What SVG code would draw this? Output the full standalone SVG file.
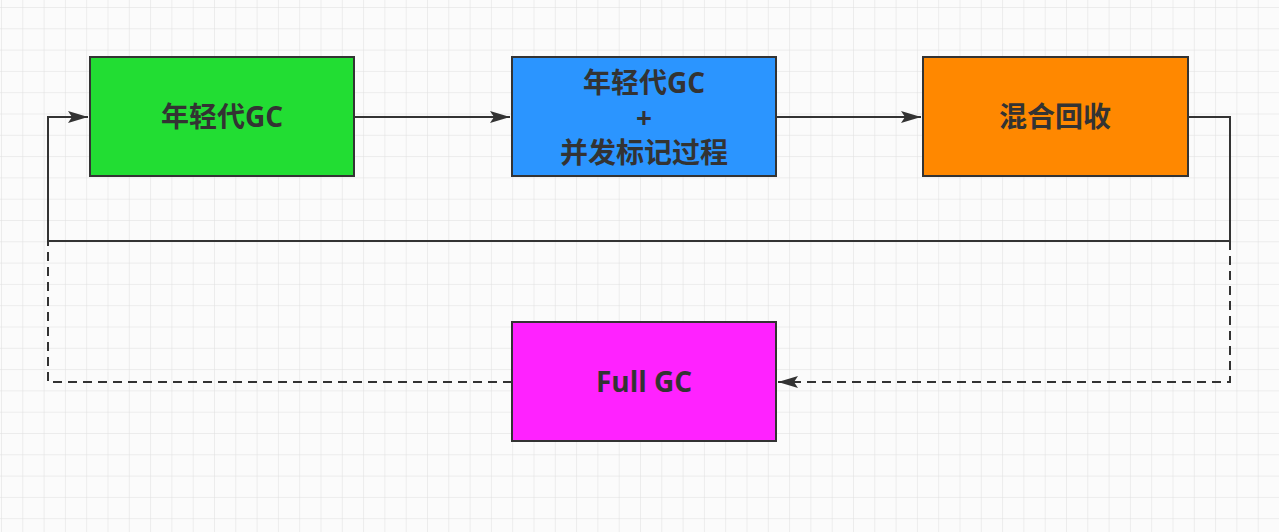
<svg xmlns="http://www.w3.org/2000/svg" width="1279" height="532" viewBox="0 0 1279 532">
<style>
.node{stroke:#333;stroke-width:2}
.lbl{font-family:"Open Sans","Noto Sans CJK SC",sans-serif;font-weight:bold;font-size:28px;fill:#333;text-anchor:middle;dominant-baseline:central}
.edge{fill:none;stroke:#333;stroke-width:2}
.dash{stroke-dasharray:9 6}
</style>
<defs>
<pattern id="grid" x="1" y="7" width="21.3" height="21.3" patternUnits="userSpaceOnUse">
<path d="M0 0H21.3M0 0V21.3" fill="none" stroke="#dedede" stroke-width="1"/>
</pattern>
<marker id="arrL" viewBox="0 0 20 12" refX="20" refY="6" markerWidth="20" markerHeight="12" markerUnits="userSpaceOnUse" orient="auto">
<path d="M0 0L20 6L0 12L4 6Z" fill="#333"/>
</marker>
</defs>
<rect width="1279" height="532" fill="#fbfbfb"/>
<rect width="1279" height="532" fill="url(#grid)"/>
<g id="connectors">
<path class="edge" d="M354 117H510" marker-end="url(#arrL)"/>
<path class="edge" d="M776 117H921" marker-end="url(#arrL)"/>
<path class="edge" d="M1188 117H1230V241H48V117H88" marker-end="url(#arrL)"/>
<path class="edge dash" d="M1230 241V382H778" marker-end="url(#arrL)"/>
<path class="edge dash" d="M512 382H48V241"/>
</g>
<g id="young-gc">
<rect class="node" x="90" y="57" width="264" height="119" fill="#22dd33"/>
<text class="lbl" x="222" y="116">年轻代GC</text>
</g>
<g id="young-gc-concurrent-mark">
<rect class="node" x="512" y="57" width="264" height="119" fill="#2b95ff"/>
<text class="lbl" x="644" y="82">年轻代GC</text>
<text class="lbl" x="644" y="117">+</text>
<text class="lbl" x="644" y="152">并发标记过程</text>
</g>
<g id="mixed-gc">
<rect class="node" x="923" y="57" width="265" height="119" fill="#ff8800"/>
<text class="lbl" x="1055" y="116">混合回收</text>
</g>
<g id="full-gc">
<rect class="node" x="512" y="322" width="264" height="119" fill="#ff22ff"/>
<text class="lbl" x="644" y="381">Full GC</text>
</g>
</svg>
